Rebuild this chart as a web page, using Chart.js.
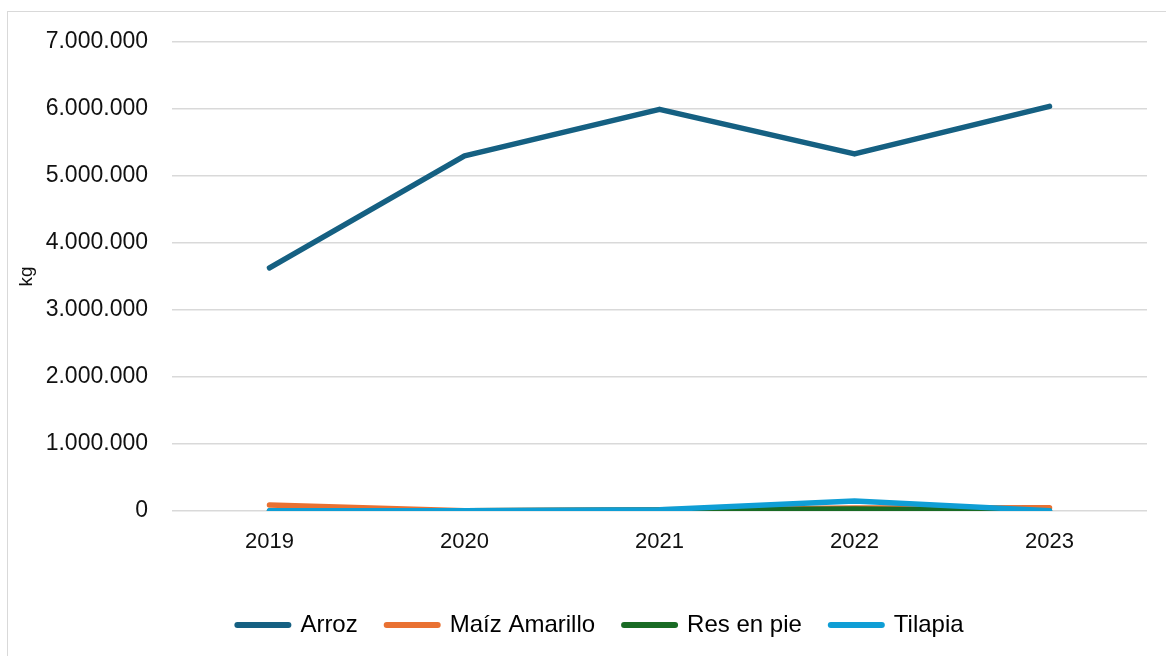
<!DOCTYPE html>
<html>
<head>
<meta charset="utf-8">
<script src="https://cdn.jsdelivr.net/npm/chart.js@4"></script>
<style>
  html, body { margin: 0; padding: 0; background: #fff; }
  #frame { position: absolute; left: 7px; top: 11px; width: 1170px; height: 660px; border: 1px solid #d9d9d9; box-sizing: border-box; }
  #wrap { position: absolute; left: 0; top: 0; width: 1166px; height: 656px; }
</style>
</head>
<body>
<div id="frame"></div>
<div id="wrap"><canvas id="chart"></canvas></div>
<script>
// Años y producción (kg)
const anios = ['2019', '2020', '2021', '2022', '2023'];
const arroz = [3630000, 5300000, 5995000, 5330000, 6040000];
const maizAmarillo = [90000, 5000, 20000, 45000, 50000];
const resEnPie = [0, 5000, 10000, 30000, 0];
const tilapia = [5000, 5000, 20000, 150000, 5000];

const series = [
  { label: 'Arroz', data: arroz, color: '#156082' },
  { label: 'Maíz Amarillo', data: maizAmarillo, color: '#E97132' },
  { label: 'Res en pie', data: resEnPie, color: '#196B24' },
  { label: 'Tilapia', data: tilapia, color: '#0F9ED5' }
];

function miles(v) {
  return String(v).replace(/\B(?=(\d{3})+(?!\d))/g, '.');
}

// la leyenda va un poco a la derecha, como en el original
const moverLeyenda = {
  id: 'moverLeyenda',
  afterLayout(chart) {
    const l = chart.legend;
    if (l) { l.left += 22; l.right += 22; }
  }
};

Chart.defaults.font.family = '"Liberation Sans", Arial, sans-serif';
Chart.defaults.color = '#111';

const ctx = document.getElementById('chart').getContext('2d');
new Chart(ctx, {
  type: 'line',
  data: {
    labels: anios,
    datasets: series.map((s, i) => ({
      label: s.label,
      data: s.data,
      borderColor: s.color,
      backgroundColor: s.color,
      borderWidth: 5.5,
      borderCapStyle: 'round',
      borderJoinStyle: 'round',
      pointRadius: 0,
      tension: 0,
      order: series.length - i  // la última serie queda encima
    }))
  },
  options: {
    responsive: true,
    maintainAspectRatio: false,
    animation: false,
    layout: { padding: { top: 42, right: 19, left: 10, bottom: 9 } },
    plugins: {
      tooltip: { enabled: false },
      legend: {
        position: 'bottom',
        labels: {
          usePointStyle: true,
          pointStyleWidth: 51,
          boxHeight: 6,
          padding: 29,
          font: { size: 24 },
          generateLabels: chart => chart.data.datasets.map((d, i) => ({
            text: d.label,
            pointStyle: 'line',
            fillStyle: d.borderColor,
            strokeStyle: d.borderColor,
            lineWidth: 6,
            lineCap: 'round',
            datasetIndex: i
          }))
        }
      }
    },
    scales: {
      x: {
        offset: true,
        grid: { display: false },
        border: { display: false },
        ticks: { padding: 10, font: { size: 22 } },
        afterFit: axis => { axis.height = 73; }
      },
      y: {
        min: 0,
        max: 7000000,
        grid: { color: '#d9d9d9', lineWidth: 1.5, drawTicks: false },
        border: { display: false },
        ticks: {
          stepSize: 1000000,
          padding: 24,
          font: { size: 23 },
          callback: v => miles(v)
        },
        title: { display: true, text: 'kg', font: { size: 19 }, padding: { top: 5, bottom: 0 } },
        afterFit: axis => { axis.width = 162; }
      }
    }
  },
  plugins: [moverLeyenda]
});
</script>
</body>
</html>
